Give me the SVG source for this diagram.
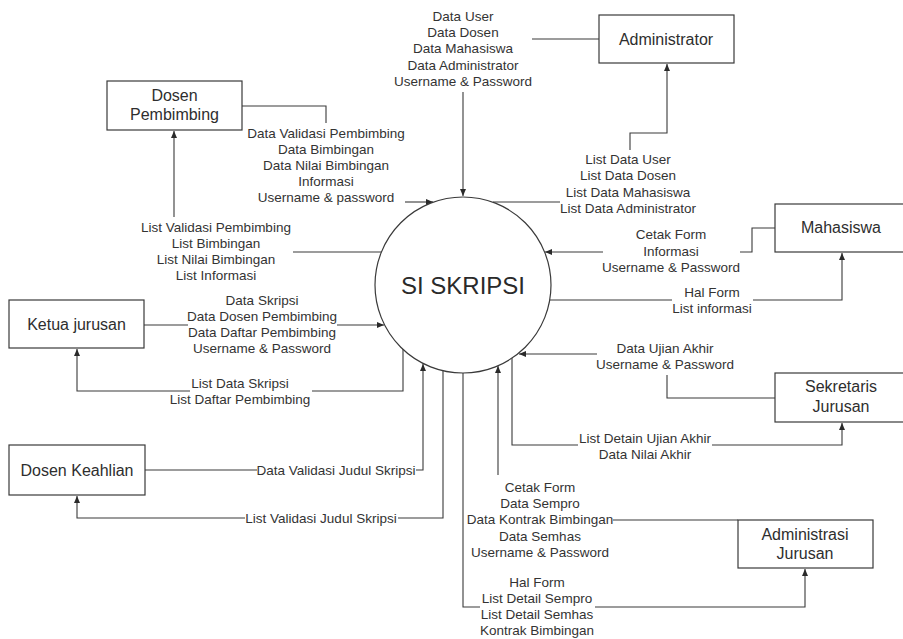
<svg xmlns="http://www.w3.org/2000/svg" width="903" height="639" viewBox="0 0 903 639">
<defs>
<marker id="arr" markerWidth="7" markerHeight="6" refX="7" refY="3" orient="auto" markerUnits="userSpaceOnUse">
<path d="M0,0 L7,3 L0,6 Z" fill="#2a2a2a"/>
</marker>
<style>
.box{fill:#fff;stroke:#3a3a3a;stroke-width:1.2}
.bt{font-family:"Liberation Sans",Arial,sans-serif;font-size:16px;fill:#2e2e2e;text-anchor:middle}
.lb{font-family:"Liberation Sans",Arial,sans-serif;font-size:13.5px;fill:#333;text-anchor:middle}
.c{fill:none;stroke:#3a3a3a;stroke-width:1.1}
.a{marker-end:url(#arr)}
</style>
</defs>
<rect width="903" height="639" fill="#fff"/>

<g id="connectors">
<path class="c" d="M599,39 H532"/>
<path class="c a" d="M463,92 V196"/>
<path class="c" d="M493,202 H560"/>
<path class="c a" d="M630,150 V133 H667 V64"/>
<path class="c" d="M242,106 H326 V123"/>
<path class="c a" d="M405,202 H433"/>
<path class="c" d="M382,252 H293"/>
<path class="c a" d="M174,217 V131"/>
<path class="c" d="M144,325 H188"/>
<path class="c a" d="M337,325 H384"/>
<path class="c" d="M403,349 V391 H312"/>
<path class="c a" d="M190,391 H77 V349"/>
<path class="c" d="M145,470 H257"/>
<path class="c a" d="M416,470 H423 V364"/>
<path class="c" d="M443,371 V518 H398"/>
<path class="c a" d="M245,518 H77 V496"/>
<path class="c" d="M775,228 H752 V252 H740"/>
<path class="c a" d="M603,252 H545"/>
<path class="c" d="M550,300 H672"/>
<path class="c a" d="M753,300 H842 V253"/>
<path class="c" d="M775,398 H667 V375"/>
<path class="c a" d="M597,354 H519"/>
<path class="c" d="M512,358 V445 H578"/>
<path class="c a" d="M712,445 H842 V423"/>
<path class="c" d="M738,520 H613"/>
<path class="c a" d="M498,475 V366"/>
<path class="c" d="M463,373 V607 H480"/>
<path class="c a" d="M595,607 H805 V569"/>
</g>

<g id="labels">
<text class="lb" x="463" y="21">Data User<tspan x="463" dy="16.2">Data Dosen</tspan><tspan x="463" dy="16.2">Data Mahasiswa</tspan><tspan x="463" dy="16.2">Data Administrator</tspan><tspan x="463" dy="16.2">Username &amp; Password</tspan></text>
<text class="lb" x="628" y="164">List Data User<tspan x="628" dy="16.3">List Data Dosen</tspan><tspan x="628" dy="16.3">List Data Mahasiswa</tspan><tspan x="628" dy="16.3">List Data Administrator</tspan></text>
<text class="lb" x="326" y="138">Data Validasi Pembimbing<tspan x="326" dy="16">Data Bimbingan</tspan><tspan x="326" dy="16">Data Nilai Bimbingan</tspan><tspan x="326" dy="16">Informasi</tspan><tspan x="326" dy="16">Username &amp; password</tspan></text>
<text class="lb" x="216" y="232">List Validasi Pembimbing<tspan x="216" dy="16">List Bimbingan</tspan><tspan x="216" dy="16">List Nilai Bimbingan</tspan><tspan x="216" dy="16">List Informasi</tspan></text>
<text class="lb" x="262" y="305">Data Skripsi<tspan x="262" dy="16">Data Dosen Pembimbing</tspan><tspan x="262" dy="16">Data Daftar Pembimbing</tspan><tspan x="262" dy="16">Username &amp; Password</tspan></text>
<text class="lb" x="240" y="388">List Data Skripsi<tspan x="240" dy="16">List Daftar Pembimbing</tspan></text>
<text class="lb" x="336" y="475">Data Validasi Judul Skripsi</text>
<text class="lb" x="321" y="523">List Validasi Judul Skripsi</text>
<text class="lb" x="671" y="239">Cetak Form<tspan x="671" dy="16.5">Informasi</tspan><tspan x="671" dy="16.5">Username &amp; Password</tspan></text>
<text class="lb" x="712" y="297">Hal Form<tspan x="712" dy="16">List informasi</tspan></text>
<text class="lb" x="665" y="353">Data Ujian Akhir<tspan x="665" dy="16">Username &amp; Password</tspan></text>
<text class="lb" x="645" y="443">List Detain Ujian Akhir<tspan x="645" dy="16">Data Nilai Akhir</tspan></text>
<text class="lb" x="540" y="492">Cetak Form<tspan x="540" dy="16.2">Data Sempro</tspan><tspan x="540" dy="16.2">Data Kontrak Bimbingan</tspan><tspan x="540" dy="16.2">Data Semhas</tspan><tspan x="540" dy="16.2">Username &amp; Password</tspan></text>
<text class="lb" x="537" y="587">Hal Form<tspan x="537" dy="16">List Detail Sempro</tspan><tspan x="537" dy="16">List Detail Semhas</tspan><tspan x="537" dy="16">Kontrak Bimbingan</tspan></text>
</g>

<g id="si-skripsi">
<circle cx="463" cy="285" r="88" fill="#fff" stroke="#3a3a3a" stroke-width="1.2"/>
<text x="463" y="294" font-family="Liberation Sans, Arial, sans-serif" font-size="24" fill="#2a2a2a" text-anchor="middle">SI SKRIPSI</text>
</g>

<g id="administrator">
<rect class="box" x="599" y="15" width="135" height="48"/>
<text class="bt" x="666" y="45">Administrator</text>
</g>
<g id="dosen-pembimbing">
<rect class="box" x="107" y="81" width="135" height="49"/>
<text class="bt" x="174.5" y="101">Dosen<tspan x="174.5" dy="19">Pembimbing</tspan></text>
</g>
<g id="ketua-jurusan">
<rect class="box" x="9" y="300" width="135" height="48"/>
<text class="bt" x="76.5" y="330">Ketua jurusan</text>
</g>
<g id="dosen-keahlian">
<rect class="box" x="9" y="445" width="136" height="50"/>
<text class="bt" x="77" y="476">Dosen Keahlian</text>
</g>
<g id="mahasiswa">
<rect class="box" x="775" y="204" width="140" height="48"/>
<text class="bt" x="841" y="233">Mahasiswa</text>
</g>
<g id="sekretaris-jurusan">
<rect class="box" x="775" y="373" width="140" height="49"/>
<text class="bt" x="841" y="392">Sekretaris<tspan x="841" dy="20">Jurusan</tspan></text>
</g>
<g id="administrasi-jurusan">
<rect class="box" x="738" y="520" width="135" height="48"/>
<text class="bt" x="805" y="540">Administrasi<tspan x="805" dy="19">Jurusan</tspan></text>
</g>
</svg>
